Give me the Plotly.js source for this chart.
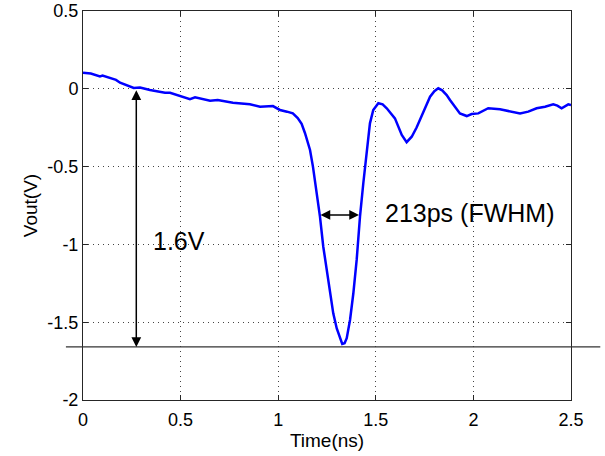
<!DOCTYPE html>
<html>
<head>
<meta charset="utf-8">
<script src="https://cdn.plot.ly/plotly-3.0.1.min.js"></script>
<style>html,body{margin:0;padding:0;background:#fff;}#chart{width:605px;height:456px;}</style>
</head>
<body>
<div id="chart"></div>
<script>
// Time axis (ns) and measured output voltage (V)
const timeNs = [0.0, 0.04, 0.087, 0.100, 0.169, 0.19, 0.26, 0.292, 0.343, 0.394, 0.42, 0.446, 0.497, 0.548, 0.574, 0.651, 0.69, 0.768, 0.855, 0.907, 0.973, 1.009, 1.045, 1.075, 1.10, 1.12, 1.137, 1.163, 1.178, 1.197, 1.214, 1.231, 1.257, 1.282, 1.300, 1.315, 1.328, 1.340, 1.351, 1.368, 1.385, 1.402, 1.419, 1.436, 1.453, 1.47, 1.487, 1.513, 1.535, 1.556, 1.598, 1.633, 1.658, 1.684, 1.709, 1.743, 1.778, 1.80, 1.82, 1.84, 1.863, 1.88, 1.906, 1.931, 1.966, 1.991, 2.025, 2.076, 2.136, 2.187, 2.239, 2.281, 2.324, 2.367, 2.409, 2.43, 2.452, 2.486, 2.5];
const voutV = [0.104, 0.098, 0.080, 0.085, 0.057, 0.039, 0.005, 0.008, -0.008, -0.019, -0.025, -0.025, -0.048, -0.066, -0.055, -0.076, -0.072, -0.089, -0.100, -0.115, -0.111, -0.136, -0.147, -0.158, -0.188, -0.225, -0.284, -0.393, -0.500, -0.672, -0.822, -1.015, -1.229, -1.443, -1.540, -1.600, -1.640, -1.635, -1.603, -1.486, -1.314, -1.100, -0.822, -0.607, -0.393, -0.222, -0.136, -0.093, -0.100, -0.125, -0.190, -0.297, -0.343, -0.308, -0.249, -0.150, -0.051, -0.015, 0.003, -0.010, -0.040, -0.072, -0.115, -0.158, -0.175, -0.162, -0.158, -0.125, -0.132, -0.143, -0.158, -0.147, -0.125, -0.115, -0.100, -0.108, -0.125, -0.100, -0.105];

// Annotation values
const swingTime = 0.273;
const swingTop = 0;
const swingBottom = -1.659;
const fwhmStart = 1.209;
const fwhmEnd = 1.414;
const fwhmLevel = -0.811;
const swingLabel = '1.6V';
const fwhmLabel = '213ps (FWHM)';
const xTicks = [0, 0.5, 1, 1.5, 2, 2.5];
const xTickText = ['0', '0.5', '1', '1.5', '2', '2.5'];
const yTicks = [-2, -1.5, -1, -0.5, 0, 0.5];
const yTickText = ['-2', '-1.5', '-1', '-0.5', '0', '0.5'];

const FONT = 'Liberation Sans, Arial, sans-serif';
const axisCommon = {
  showline: true, mirror: 'ticks', linecolor: '#262626', linewidth: 1,
  ticks: 'inside', ticklen: 5, tickcolor: '#262626',
  showgrid: true, gridcolor: '#444', griddash: '1px,4px', gridwidth: 1,
  zeroline: false,
  tickfont: {family: FONT, size: 18, color: '#000'}
};

const data = [{
  x: timeNs, y: voutV, type: 'scatter', mode: 'lines',
  line: {color: '#0000ff', width: 2.5},
  hoverinfo: 'skip'
}];

const layout = {
  width: 605, height: 456,
  margin: {l: 83, r: 34, t: 11, b: 56},
  paper_bgcolor: '#fff', plot_bgcolor: '#fff',
  showlegend: false,
  xaxis: Object.assign({}, axisCommon, {
    range: [0, 2.5], tickvals: xTicks, ticktext: xTickText, ticklabelstandoff: 3,
    title: {text: 'Time(ns)', font: {family: FONT, size: 19, color: '#000'}, standoff: 2}
  }),
  yaxis: Object.assign({}, axisCommon, {
    range: [-2, 0.5], tickvals: yTicks, ticktext: yTickText,
    title: {text: 'Vout(V)', font: {family: FONT, size: 19, color: '#000'}, standoff: 4}
  }),
  shapes: [{
    type: 'line', xref: 'paper', yref: 'y',
    x0: -0.035, x1: 1.06, y0: swingBottom, y1: swingBottom,
    line: {color: '#333', width: 1.3}
  }],
  annotations: [
    {x: swingTime, y: swingBottom, ax: swingTime, ay: swingTop, xref: 'x', yref: 'y', axref: 'x', ayref: 'y',
     text: '', showarrow: true, arrowhead: 2, startarrowhead: 2, arrowside: 'end+start', arrowsize: 1.3, arrowwidth: 1.5, arrowcolor: '#000', standoff: 0, startstandoff: 0},
    {x: fwhmEnd, y: fwhmLevel, ax: fwhmStart, ay: fwhmLevel, xref: 'x', yref: 'y', axref: 'x', ayref: 'y',
     text: '', showarrow: true, arrowhead: 2, startarrowhead: 2, arrowside: 'end+start', arrowsize: 1.3, arrowwidth: 1.5, arrowcolor: '#000', standoff: 0, startstandoff: 0},
    {x: 0.348, y: -0.978, xref: 'x', yref: 'y', xanchor: 'left', yanchor: 'middle', showarrow: false,
     text: swingLabel, font: {family: FONT, size: 25, color: '#000'}},
    {x: 1.537, y: -0.798, xref: 'x', yref: 'y', xanchor: 'left', yanchor: 'middle', showarrow: false,
     text: fwhmLabel, font: {family: FONT, size: 25, color: '#000'}}
  ]
};

Plotly.newPlot('chart', data, layout, {displayModeBar: false, staticPlot: true});
</script>
</body>
</html>
